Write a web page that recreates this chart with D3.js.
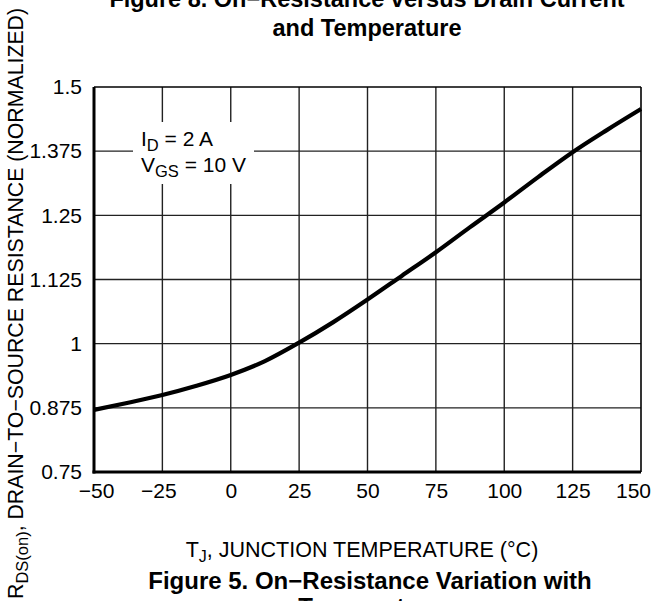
<!DOCTYPE html>
<html>
<head>
<meta charset="utf-8">
<script src="https://cdn.jsdelivr.net/npm/d3@7/dist/d3.min.js"></script>
<style>
  html, body { margin: 0; padding: 0; background: #fff; }
  svg { display: block; font-family: Arial, "Liberation Sans", Helvetica, sans-serif; }
</style>
</head>
<body>
<svg id="chart" width="654" height="601"></svg>
<script>
// Data
const temperature = [-50, -37.5, -25, -12.5, 0, 12.5, 25, 37.5, 50, 62.5, 75, 87.5, 100, 112.5, 125, 137.5, 150];
const resistance  = [0.871, 0.885, 0.900, 0.918, 0.939, 0.966, 1.002, 1.042, 1.086, 1.132, 1.178, 1.227, 1.275, 1.325, 1.373, 1.416, 1.457];
const xTicks = [-50, -25, 0, 25, 50, 75, 100, 125, 150];
const yTicks = [0.75, 0.875, 1, 1.125, 1.25, 1.375, 1.5];
const yTickLabels = ["0.75", "0.875", "1", "1.125", "1.25", "1.375", "1.5"];

const svg = d3.select("#chart");
const pL = 94, pR = 641, pT = 87, pB = 472;
const FONT = "Arial, 'Liberation Sans', Helvetica, sans-serif";

const x = d3.scaleLinear().domain([-50, 150]).range([pL, pR]);
const y = d3.scaleLinear().domain([0.75, 1.5]).range([pB, pT]);

const fmtX = d => d < 0 ? "\u2212" + Math.abs(d) : String(d);

// Grid
const grid = svg.append("g");
grid.selectAll("line.v").data(xTicks.slice(1, -1)).join("line")
  .attr("x1", d => x(d)).attr("x2", d => x(d))
  .attr("y1", pT).attr("y2", pB)
  .attr("stroke", "#222").attr("stroke-width", 1.4);
grid.selectAll("line.h").data(yTicks.slice(1, -1)).join("line")
  .attr("x1", pL).attr("x2", pR)
  .attr("y1", d => y(d)).attr("y2", d => y(d))
  .attr("stroke", "#222").attr("stroke-width", 1.4);

// Legend background (breaks grid)
svg.append("rect").attr("x", 133).attr("y", 122).attr("width", 121).attr("height", 62).attr("fill", "#fff");

// Frame: thin top/right, thick left/bottom
svg.append("line").attr("x1", pL).attr("x2", pR).attr("y1", pT).attr("y2", pT).attr("stroke", "#000").attr("stroke-width", 1.6);
svg.append("line").attr("x1", pR).attr("x2", pR).attr("y1", pT).attr("y2", pB).attr("stroke", "#000").attr("stroke-width", 1.6);

// Axes with D3
const xAxis = d3.axisBottom(x).tickValues(xTicks).tickFormat(fmtX).tickSize(0).tickPadding(11);
const gx = svg.append("g").attr("transform", `translate(0,${pB})`).call(xAxis);
gx.select(".domain").attr("stroke", "#000").attr("stroke-width", 3).attr("d", `M${pL - 1.5},0H${pR}`);
gx.selectAll("text").attr("font-size", 21).attr("fill", "#000").attr("font-family", FONT)
  .attr("dx", d => d === -50 ? 2 : d === -25 ? -4 : d === 150 ? -8 : 0);

const yAxis = d3.axisLeft(y).tickValues(yTicks).tickFormat((d, i) => yTickLabels[i]).tickSize(0).tickPadding(12);
const gy = svg.append("g").attr("transform", `translate(${pL},0)`).call(yAxis);
gy.select(".domain").attr("stroke", "#000").attr("stroke-width", 3).attr("d", `M0,${pT}V${pB + 1.5}`);
gy.selectAll("text").attr("font-size", 21).attr("fill", "#000").attr("font-family", FONT);

// Curve
const line = d3.line().x((d, i) => x(temperature[i])).y(d => y(d)).curve(d3.curveMonotoneX);
svg.append("path").datum(resistance)
  .attr("d", line).attr("fill", "none").attr("stroke", "#000").attr("stroke-width", 4.2)
  .attr("stroke-linejoin", "round");

// Legend text
const leg = svg.append("g").attr("font-size", 21).attr("fill", "#000");
const t1 = leg.append("text").attr("x", 141).attr("y", 146);
t1.append("tspan").text("I");
t1.append("tspan").attr("dy", 5).attr("font-size", 16.5).text("D");
t1.append("tspan").attr("dy", -5).text(" = 2 A");
const t2 = leg.append("text").attr("x", 141).attr("y", 172);
t2.append("tspan").text("V");
t2.append("tspan").attr("dy", 5).attr("font-size", 16.5).text("GS");
t2.append("tspan").attr("dy", -5).text(" = 10 V");

// Top title (cut off)
const title = svg.append("g").attr("font-weight", "bold").attr("font-size", 23.5).attr("text-anchor", "middle").attr("fill", "#000");
title.append("text").attr("x", 367).attr("y", 7).text("Figure 8. On\u2212Resistance versus Drain Current");
title.append("text").attr("x", 367).attr("y", 36).text("and Temperature");

// X axis title
const xt = svg.append("text").attr("x", 362).attr("y", 557).attr("text-anchor", "middle").attr("font-size", 21.5).attr("fill", "#000");
xt.append("tspan").text("T");
xt.append("tspan").attr("dy", 5).attr("font-size", 16).text("J");
xt.append("tspan").attr("dy", -5).text(", JUNCTION TEMPERATURE (\u00B0C)");

// Caption (cut off)
const cap = svg.append("g").attr("font-weight", "bold").attr("font-size", 24).attr("text-anchor", "middle").attr("fill", "#000");
cap.append("text").attr("x", 370).attr("y", 589).text("Figure 5. On\u2212Resistance Variation with");
cap.append("text").attr("x", 370).attr("y", 615).text("Temperature");

// Y axis title
const yt = svg.append("text").attr("transform", "translate(23,599) rotate(-90)").attr("text-anchor", "start").attr("font-size", 21.3).attr("fill", "#000");
yt.append("tspan").text("R");
yt.append("tspan").attr("dy", 5).attr("font-size", 16.5).text("DS(on)");
yt.append("tspan").attr("dy", -5).text(", DRAIN\u2212TO\u2212SOURCE RESISTANCE (NORMALIZED)");
</script>
</body>
</html>
